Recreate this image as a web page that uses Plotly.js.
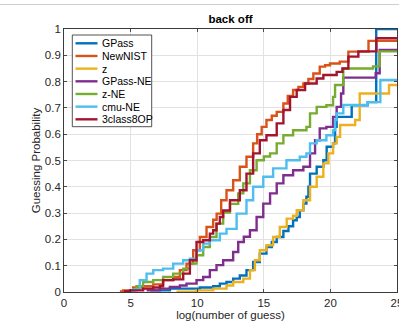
<!DOCTYPE html>
<html>
<head>
<meta charset="utf-8">
<script src="https://cdn.plot.ly/plotly-3.0.1.min.js"></script>
<style>html,body{margin:0;padding:0;background:#fff;}#chart{width:399px;height:324px;}</style>
</head>
<body>
<div id="chart"></div>
<script>
// ---- data ----
var seriesNames = ["GPass", "NewNIST", "z", "GPass-NE", "z-NE", "cmu-NE", "3class8OP"];
var seriesColors = ["#0072BD", "#D95319", "#EDB120", "#7E2F8E", "#77AC30", "#4DBEEE", "#A2142F"];

var gpassX = [6.5, 7.95, 10.2, 11.2, 11.7, 12.2, 12.7, 13.2, 13.7, 14.2, 14.7, 15.2, 15.6, 15.97, 16.47, 16.85, 17.2, 17.47, 17.7, 17.97, 18.2, 18.35, 18.47, 18.97, 19.47, 19.72, 20.2, 20.35, 20.47, 21.6, 22.8, 23.44, 25];
var gpassY = [0.006, 0.013, 0.017, 0.022, 0.032, 0.038, 0.051, 0.063, 0.083, 0.114, 0.146, 0.171, 0.19, 0.209, 0.232, 0.25, 0.273, 0.285, 0.311, 0.336, 0.362, 0.40, 0.45, 0.476, 0.501, 0.552, 0.565, 0.628, 0.666, 0.71, 0.722, 1.0, 1.0];

var newnistX = [4.2, 4.44, 5.19, 5.94, 6.7, 7.44, 8.2, 8.7, 9.2, 9.7, 10.2, 10.7, 11.2, 11.46, 11.8, 12.2, 12.7, 13.2, 13.7, 14.2, 14.5, 14.84, 15.2, 15.6, 15.97, 16.47, 16.8, 17.2, 17.6, 17.97, 18.35, 18.72, 19.2, 19.6, 19.97, 20.7, 21.35, 22.86, 25];
var newnistY = [0.002, 0.006, 0.017, 0.022, 0.029, 0.045, 0.057, 0.083, 0.108, 0.159, 0.209, 0.247, 0.275, 0.298, 0.349, 0.387, 0.425, 0.476, 0.514, 0.565, 0.60, 0.628, 0.654, 0.67, 0.685, 0.717, 0.745, 0.768, 0.78, 0.793, 0.81, 0.831, 0.857, 0.862, 0.869, 0.876, 0.914, 0.955, 0.955];

var zX = [8.45, 9.95, 11.2, 12.2, 12.7, 13.46, 13.96, 14.33, 14.7, 15.2, 15.7, 16.2, 16.72, 17.2, 17.47, 17.97, 18.47, 18.97, 19.47, 19.85, 20.2, 20.47, 20.73, 21.86, 22.2, 24.4, 25];
var zY = [0.001, 0.006, 0.013, 0.025, 0.038, 0.051, 0.083, 0.121, 0.159, 0.178, 0.209, 0.247, 0.279, 0.29, 0.311, 0.349, 0.40, 0.438, 0.489, 0.527, 0.565, 0.59, 0.635, 0.654, 0.755, 0.787, 0.787];

var gpassNeX = [6.2, 7.2, 7.95, 8.7, 9.2, 9.95, 10.45, 10.95, 11.45, 11.95, 12.7, 13.08, 13.5, 13.96, 14.46, 14.96, 15.47, 15.97, 16.47, 17.2, 17.97, 18.47, 18.85, 19.2, 19.7, 20.2, 20.47, 20.8, 20.97, 23.4, 23.7, 25];
var gpassNeY = [0.006, 0.013, 0.019, 0.025, 0.032, 0.045, 0.057, 0.083, 0.102, 0.121, 0.152, 0.19, 0.21, 0.235, 0.285, 0.336, 0.375, 0.413, 0.444, 0.463, 0.476, 0.527, 0.577, 0.622, 0.628, 0.666, 0.704, 0.755, 0.815, 0.832, 0.92, 0.92];

var zNeX = [4.94, 5.44, 5.94, 6.7, 7.44, 8.2, 8.95, 9.45, 9.95, 10.45, 10.95, 11.45, 11.95, 12.46, 13.08, 13.46, 13.96, 14.46, 15.0, 15.47, 15.97, 16.47, 17.2, 18.2, 18.47, 18.97, 19.7, 20.2, 20.35, 20.97, 23.2, 23.7, 25];
var zNeY = [0.006, 0.022, 0.038, 0.045, 0.057, 0.07, 0.089, 0.108, 0.14, 0.171, 0.209, 0.26, 0.302, 0.335, 0.375, 0.413, 0.463, 0.501, 0.515, 0.527, 0.565, 0.596, 0.615, 0.628, 0.679, 0.704, 0.71, 0.742, 0.787, 0.85, 0.858, 0.915, 0.915];

var cmuNeX = [4.6, 5.19, 5.69, 6.2, 6.7, 7.44, 8.2, 8.95, 9.45, 9.95, 10.45, 10.95, 11.7, 12.2, 12.96, 13.7, 14.2, 14.96, 15.7, 16.7, 17.7, 18.2, 18.47, 18.97, 19.7, 20.2, 20.35, 20.47, 20.97, 22.8, 23.75, 25];
var cmuNeY = [0.003, 0.01, 0.045, 0.07, 0.083, 0.089, 0.108, 0.121, 0.127, 0.159, 0.184, 0.197, 0.222, 0.24, 0.298, 0.349, 0.40, 0.438, 0.47, 0.501, 0.514, 0.527, 0.565, 0.577, 0.596, 0.615, 0.654, 0.679, 0.711, 0.722, 0.806, 0.806];

var class8X = [4.5, 4.94, 5.94, 6.7, 7.2, 7.44, 8.2, 8.95, 9.45, 9.95, 10.45, 10.95, 11.2, 11.45, 11.7, 11.95, 12.46, 13.2, 13.7, 14.2, 14.7, 15.2, 15.97, 16.47, 16.97, 17.47, 18.1, 18.97, 19.47, 20.47, 20.9, 21.35, 22.1, 23.45, 25];
var class8Y = [0.003, 0.006, 0.013, 0.017, 0.022, 0.045, 0.048, 0.07, 0.121, 0.19, 0.197, 0.222, 0.235, 0.26, 0.285, 0.31, 0.349, 0.387, 0.45, 0.527, 0.577, 0.596, 0.641, 0.692, 0.742, 0.768, 0.793, 0.812, 0.825, 0.837, 0.85, 0.895, 0.915, 0.965, 0.965];

var xTickVals = [0, 5, 10, 15, 20, 25];
var yTickVals = [0, 0.1, 0.2, 0.3, 0.4, 0.5, 0.6, 0.7, 0.8, 0.9, 1];
var yTickText = ["0", "0.1", "0.2", "0.3", "0.4", "0.5", "0.6", "0.7", "0.8", "0.9", "1"];

var seriesX = [gpassX, newnistX, zX, gpassNeX, zNeX, cmuNeX, class8X];
var seriesY = [gpassY, newnistY, zY, gpassNeY, zNeY, cmuNeY, class8Y];

// ---- figure ----
var FONT = '"Liberation Sans", Arial, Helvetica, sans-serif';
var LW = 2.4;
var W = 399, H = 324, ML = 64, MR = 2, MT = 29, MB = 32;
var PW = W - ML - MR, PH = H - MT - MB;
function px2x(px) { return (px - ML) / PW; }
function py2y(py) { return (H - MB - py) / PH; }

var traces = seriesNames.map(function (name, i) {
  return {
    type: 'scatter', mode: 'lines', name: name,
    x: seriesX[i], y: seriesY[i],
    line: {color: seriesColors[i], width: LW, shape: 'hv'},
    hoverinfo: 'skip'
  };
});

var shapes = [];
var annotations = [];
// thin gray rule at the top of the picture
shapes.push({type: 'line', xref: 'paper', yref: 'paper', x0: px2x(-5), x1: px2x(W + 5), y0: py2y(4.5), y1: py2y(4.5), line: {color: '#cfcfcf', width: 1.2}});
// legend box
shapes.push({type: 'rect', xref: 'paper', yref: 'paper', x0: px2x(72.3), x1: px2x(151.7), y0: py2y(126.7), y1: py2y(35), line: {color: '#262626', width: 0.8}, fillcolor: '#ffffff', layer: 'above'});
seriesNames.forEach(function (name, i) {
  var py = 43.3 + 12.67 * i;
  shapes.push({type: 'line', xref: 'paper', yref: 'paper', x0: px2x(75.5), x1: px2x(97.5), y0: py2y(py), y1: py2y(py), line: {color: seriesColors[i], width: LW}, layer: 'above'});
  annotations.push({xref: 'paper', yref: 'paper', x: px2x(99.5), y: py2y(py), xanchor: 'left', yanchor: 'middle', showarrow: false, text: name, font: {family: FONT, size: 10.5, color: '#000000'}});
});

var axisCommon = {
  showgrid: true, gridcolor: '#e2e2e2', gridwidth: 1,
  showline: true, linecolor: '#262626', linewidth: 0.9, mirror: 'ticks',
  ticks: 'inside', ticklen: 3, tickcolor: '#262626', tickwidth: 0.8,
  zeroline: false, fixedrange: true, ticklabeloverflow: 'allow',
  tickfont: {family: FONT, size: 11.5, color: '#262626'}
};

var layout = {
  width: W, height: H,
  margin: {l: ML, r: MR, t: MT, b: MB, pad: 0},
  paper_bgcolor: '#ffffff', plot_bgcolor: '#ffffff',
  showlegend: false,
  font: {family: FONT, color: '#262626'},
  title: {text: '<b>back off</b>', font: {family: FONT, size: 11.5, color: '#000000'}, x: 0.5, xref: 'paper', xanchor: 'center', y: 1 - 18.5 / H, yref: 'container', yanchor: 'middle'},
  xaxis: Object.assign({}, axisCommon, {
    range: [0, 25], tickvals: xTickVals, ticktext: xTickVals.map(String),
    title: {text: 'log(number of guess)', font: {family: FONT, size: 11.5, color: '#262626'}, standoff: 2}
  }),
  yaxis: Object.assign({}, axisCommon, {
    range: [0, 1], tickvals: yTickVals, ticktext: yTickText,
    title: {text: 'Guessing Probability', font: {family: FONT, size: 11.5, color: '#262626'}, standoff: 1}
  }),
  shapes: shapes,
  annotations: annotations
};

Plotly.newPlot('chart', traces, layout, {displayModeBar: false, staticPlot: true});
</script>
</body>
</html>
